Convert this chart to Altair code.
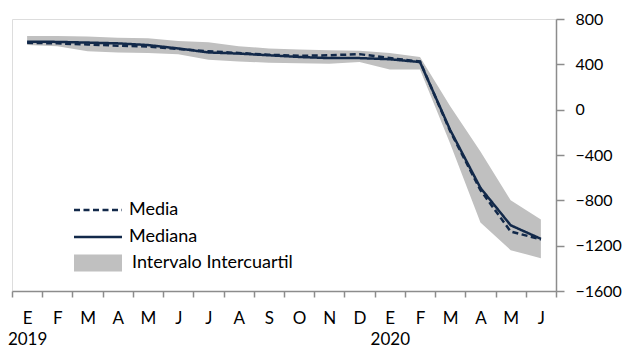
import altair as alt
import pandas as pd

months = ["E", "F", "M", "A", "M", "J", "J", "A", "S", "O", "N", "D",
          "E", "F", "M", "A", "M", "J"]
years = ["2019", "", "", "", "", "", "", "", "", "", "", "",
         "2020", "", "", "", "", ""]
median = [600, 598, 592, 585, 570, 540, 505, 495, 480, 465, 455, 455,
          445, 420, -180, -690, -1020, -1140]
mean = [590, 585, 575, 565, 558, 535, 515, 500, 485, 475, 480, 490,
        455, 425, -190, -710, -1075, -1145]
upper = [650, 650, 645, 635, 630, 605, 595, 560, 540, 530, 525, 520,
         500, 465, 30, -370, -800, -970]
lower = [570, 560, 515, 505, 500, 490, 440, 425, 415, 410, 405, 420,
         355, 355, -300, -995, -1240, -1310]

keys = [f"{m}|{y}|{i}" for i, (m, y) in enumerate(zip(months, years))]

band_df = pd.DataFrame({"key": keys, "lo": lower, "hi": upper,
                        "serie": "Intervalo Intercuartil"})
line_df = pd.DataFrame({
    "key": keys * 2,
    "v": mean + median,
    "serie": ["Media"] * len(keys) + ["Mediana"] * len(keys),
})

FONT = "Lato"
NAVY = "#12294a"
GREY_AX = "#8c8c8c"

label_expr = ("!isString(datum.value) ? '' : "
              "split(datum.value,'|')[1] != '' ? "
              "[split(datum.value,'|')[0], split(datum.value,'|')[1]] : "
              "split(datum.value,'|')[0]")

x_enc = alt.X("key:N", sort=keys, title=None,
              scale=alt.Scale(paddingInner=0, paddingOuter=0),
              axis=alt.Axis(tickBand="extent", labelAngle=0, domainColor=GREY_AX,
                            tickColor=GREY_AX, tickSize=6, labelFontSize=17,
                            labelPadding=13, labelExpr=label_expr, labelLineHeight=21,
                            labelColor="black", labelFont=FONT, grid=False,
                            domainWidth=1.5, tickWidth=1.5))

y_scale = alt.Scale(domain=[-1600, 800], nice=False)
y_axis = alt.Axis(orient="right", values=[-1600, -1200, -800, -400, 0, 400, 800],
                  format="d", grid=False, domainColor=GREY_AX, tickColor=GREY_AX,
                  tickSize=8, labelFontSize=16, labelPadding=11, labelColor="black",
                  labelFont=FONT, title=None, domainWidth=1.5, tickWidth=1.5)

area = alt.Chart(band_df).mark_area(opacity=1).encode(
    x=x_enc,
    y=alt.Y("lo:Q", scale=y_scale, axis=y_axis),
    y2="hi:Q",
    fill=alt.Fill("serie:N", scale=alt.Scale(range=["#c0c0c0"]),
                  legend=alt.Legend(title=None, orient="none", legendX=59, legendY=235,
                                    symbolType="M-1,-1.42L7,-1.42L7,1.42L-1,1.42Z",
                                    symbolSize=144, symbolStrokeWidth=0,
                                    labelFontSize=18, labelFont=FONT, labelOffset=43,
                                    labelLimit=400, labelColor="black", padding=0)),
)

lines = alt.Chart(line_df).mark_line(strokeWidth=2.5, color=NAVY).encode(
    x=x_enc,
    y=alt.Y("v:Q", scale=y_scale, axis=y_axis),
    strokeDash=alt.StrokeDash(
        "serie:N",
        scale=alt.Scale(domain=["Media", "Mediana"], range=[[6, 3.5], [1, 0]]),
        legend=alt.Legend(title=None, orient="none", legendX=59, legendY=182,
                          symbolType="M-1,0L7,0", symbolSize=144, symbolStrokeWidth=2.5,
                          symbolStrokeColor=NAVY, labelFontSize=18, labelFont=FONT,
                          labelOffset=40, labelLimit=400, labelColor="black",
                          rowPadding=9, padding=0)),
)

chart = (area + lines).properties(
    width=544, height=272,
    autosize=alt.AutoSizeParams(type="none"),
    padding={"left": 4, "top": 11, "right": 67, "bottom": 56},
).configure_view(stroke=None).configure(font=FONT)

chart.save("out.html", embed_options={"renderer": "svg", "actions": False})
